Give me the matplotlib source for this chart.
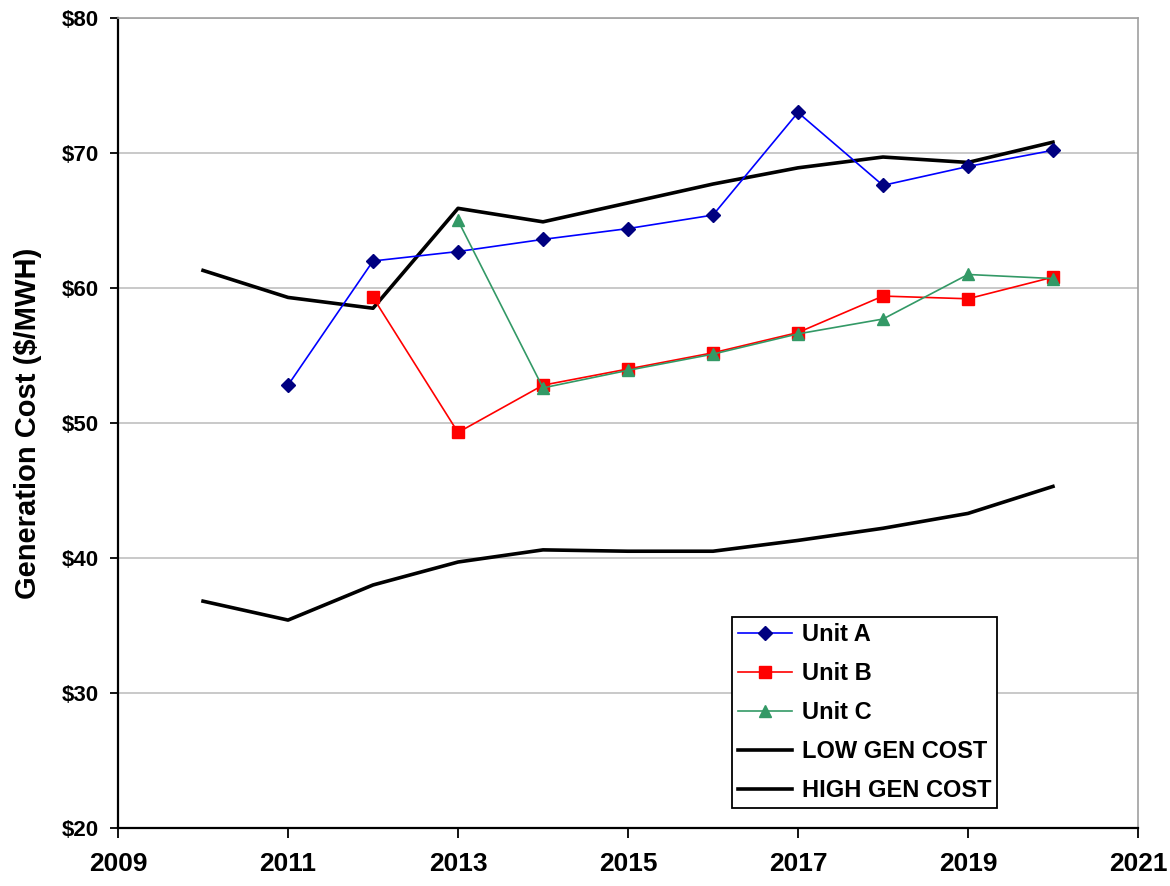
import matplotlib.pyplot as plt
import numpy as np

plt.rcParams['font.family'] = ['Liberation Sans', 'DejaVu Sans']
plt.rcParams['font.weight'] = 'bold'

years = [2010, 2011, 2012, 2013, 2014, 2015, 2016, 2017, 2018, 2019, 2020]

unit_a_years = [2011, 2012, 2013, 2014, 2015, 2016, 2017, 2018, 2019, 2020]
unit_a = [52.8, 62.0, 62.7, 63.6, 64.4, 65.4, 73.0, 67.6, 69.0, 70.2]

unit_b_years = [2012, 2013, 2014, 2015, 2016, 2017, 2018, 2019, 2020]
unit_b = [59.3, 49.3, 52.8, 54.0, 55.2, 56.7, 59.4, 59.2, 60.8]

unit_c_years = [2013, 2014, 2015, 2016, 2017, 2018, 2019, 2020]
unit_c = [65.0, 52.6, 53.9, 55.1, 56.6, 57.7, 61.0, 60.7]

low_gen = [36.8, 35.4, 38.0, 39.7, 40.6, 40.5, 40.5, 41.3, 42.2, 43.3, 45.3]
high_gen = [61.3, 59.3, 58.5, 65.9, 64.9, 66.3, 67.7, 68.9, 69.7, 69.3, 70.8]

fig = plt.figure(figsize=(11.7, 8.86), dpi=100)
ax = fig.add_axes([0.1009, 0.0655, 0.8717, 0.9142])

ax.plot(unit_a_years, unit_a, color='#0000FF', lw=1.2, marker='D', ms=7.5,
        mfc='#000080', mec='#000080', label='Unit A', zorder=4)
ax.plot(unit_b_years, unit_b, color='#FF0000', lw=1.2, marker='s', ms=8,
        mfc='#FF0000', mec='#FF0000', label='Unit B', zorder=4)
ax.plot(unit_c_years, unit_c, color='#339966', lw=1.2, marker='^', ms=9,
        mfc='#339966', mec='#339966', label='Unit C', zorder=5)
ax.plot(years, low_gen, color='black', lw=2.6, label='LOW GEN COST', zorder=3)
ax.plot(years, high_gen, color='black', lw=2.6, label='HIGH GEN COST', zorder=3)

ax.set_xlim(2009, 2021)
ax.set_ylim(20, 80)
ax.set_xticks(np.arange(2009, 2022, 2))
ax.set_yticks(np.arange(20, 81, 10))
ax.set_yticklabels(['$%d' % v for v in range(20, 81, 10)])
ax.grid(axis='y', color='#C0C0C0', lw=1.2)
ax.set_axisbelow(True)

for s in ['top', 'right']:
    ax.spines[s].set_color('#A0A0A0')
    ax.spines[s].set_linewidth(1.2)
for s in ['left', 'bottom']:
    ax.spines[s].set_color('black')
    ax.spines[s].set_linewidth(1.6)

ax.tick_params(axis='x', direction='out', length=7, width=1.3, labelsize=19, pad=10)
ax.tick_params(axis='y', direction='out', length=6, width=1.3, labelsize=16, pad=8)
for t in ax.get_xticklabels() + ax.get_yticklabels():
    t.set_fontweight('bold')
ax.set_ylabel('Generation Cost ($/MWH)', fontsize=21, fontweight='bold', labelpad=14)

leg = ax.legend(loc='lower right', bbox_to_anchor=(0.862, 0.0247),
                prop={'size': 17, 'weight': 'bold'},
                frameon=True, fancybox=False, edgecolor='black', framealpha=1,
                borderpad=0.25, labelspacing=0.68, handlelength=2.3,
                handletextpad=0.4, borderaxespad=0)
leg.get_frame().set_linewidth(1.3)

fig.savefig('out.png', dpi=100)
